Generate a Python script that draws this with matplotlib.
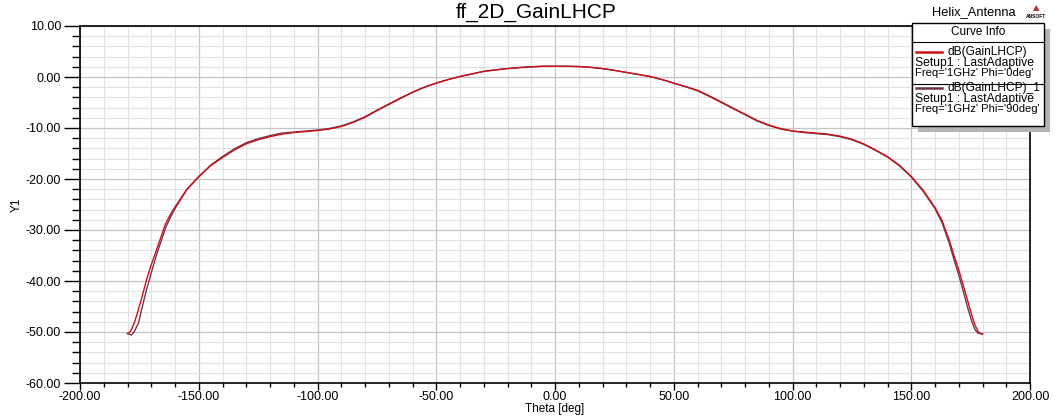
import matplotlib
matplotlib.use("Agg")
import matplotlib.pyplot as plt
from matplotlib.patches import Rectangle
from matplotlib.lines import Line2D
from matplotlib.ticker import MultipleLocator, FormatStrFormatter

plt.rcParams['font.family'] = ['Liberation Sans', 'DejaVu Sans']
plt.rcParams['axes.unicode_minus'] = False

# ---- data ----
theta_phi0 = [-180, -179, -178, -177, -176, -174, -172, -170, -168, -166, -164, -162, -160, -158,
              -155, -150, -145, -140, -135, -130, -125, -120, -115, -110, -105, -100, -95, -90,
              -85, -80, -75, -70, -65, -60, -55, -50, -45, -40, -35, -30, -25, -20, -15, -10,
              -5, 0, 5, 10, 15, 20, 25, 30, 35, 40, 45, 50, 55, 60, 65, 70, 75, 80, 85, 90,
              95, 100, 105, 110, 115, 120, 125, 130, 135, 140, 145, 150, 155, 160, 163, 166,
              168, 170, 172, 174, 176, 177, 178.2, 179, 180]
gain_phi0 = [-50.3, -50.0, -49.2, -48.0, -46.5, -43.3, -39.8, -36.8, -34.2, -31.5, -28.8, -27.0, -25.5, -24.1,
             -22.0, -19.5, -17.4, -15.8, -14.3, -13.1, -12.3, -11.7, -11.2, -10.9, -10.7, -10.5, -10.2, -9.7,
             -8.9, -7.9, -6.6, -5.4, -4.2, -3.0, -2.0, -1.2, -0.5, 0.1, 0.6, 1.1, 1.4, 1.65, 1.85, 2.0,
             2.1, 2.1, 2.1, 2.05, 1.9, 1.65, 1.3, 0.9, 0.5, 0.1, -0.5, -1.2, -1.9, -2.6, -3.7, -4.9,
             -6.1, -7.3, -8.5, -9.4, -10.1, -10.6, -10.8, -11.0, -11.2, -11.6, -12.2, -13.1, -14.3, -15.6,
             -17.3, -19.5, -22.2, -25.6, -28.2, -32.0, -35.0, -37.8, -41.0, -44.3, -47.5, -48.8, -49.9, -50.3, -50.4]

theta_phi90 = [-180, -178.3, -177, -176, -175.4, -174, -172, -170.8, -170, -168, -166, -164, -162, -160, -158,
               -155, -150, -145, -140, -135, -130, -125, -120, -115, -110, -105, -100, -95, -90,
               -85, -80, -75, -70, -65, -60, -55, -50, -45, -40, -35, -30, -25, -20, -15, -10,
               -5, 0, 5, 10, 15, 20, 25, 30, 35, 40, 45, 50, 55, 60, 65, 70, 75, 80, 85, 90,
               95, 100, 105, 110, 115, 120, 125, 130, 135, 140, 145, 150, 155, 160, 163, 166,
               168, 170, 172, 174, 175.4, 176.8, 178, 180]
gain_phi90 = [-50.3, -50.6, -49.8, -48.8, -48.3, -45.5, -41.7, -39.8, -38.4, -35.2, -32.4, -29.6, -27.6, -25.8, -24.3,
              -22.1, -19.6, -17.3, -15.6, -14.1, -12.9, -12.1, -11.5, -11.0, -10.8, -10.6, -10.4, -10.1, -9.6,
              -8.8, -7.8, -6.5, -5.3, -4.1, -3.0, -2.0, -1.2, -0.5, 0.1, 0.6, 1.1, 1.4, 1.65, 1.85, 2.0,
              2.1, 2.1, 2.1, 2.05, 1.9, 1.65, 1.3, 0.9, 0.5, 0.1, -0.5, -1.2, -1.9, -2.7, -3.8, -5.0,
              -6.2, -7.4, -8.6, -9.5, -10.2, -10.6, -10.9, -11.1, -11.3, -11.7, -12.3, -13.2, -14.4, -15.7,
              -17.4, -19.6, -22.4, -25.8, -28.6, -32.6, -35.8, -38.8, -42.2, -45.6, -47.8, -49.5, -50.2, -50.4]

x_ticks = [-200, -150, -100, -50, 0, 50, 100, 150, 200]
y_ticks = [-60, -50, -40, -30, -20, -10, 0, 10]

red = '#cc1111'
purple = '#6e3550'

W, H = 1061, 417
fig = plt.figure(figsize=(W / 100, H / 100), dpi=100)
fig.patch.set_facecolor('white')

def fx(px):
    return px / W

def fy(py):
    return 1 - py / H

ax = fig.add_axes([fx(80), fy(383), fx(1030) - fx(80), fy(26) - fy(383)])

ax.plot(theta_phi90, gain_phi90, color=purple, lw=1.0, zorder=3)
ax.plot(theta_phi0, gain_phi0, color=red, lw=1.0, zorder=4)

ax.set_xlim(-200, 200)
ax.set_ylim(-60, 10)
ax.set_xticks(x_ticks)
ax.set_yticks(y_ticks)
ax.xaxis.set_minor_locator(MultipleLocator(10))
ax.yaxis.set_minor_locator(MultipleLocator(2))
ax.xaxis.set_major_formatter(FormatStrFormatter('%.2f'))
ax.yaxis.set_major_formatter(FormatStrFormatter('%.2f'))

ax.grid(which='major', color='#c4c4c4', lw=0.9, zorder=0)
ax.grid(which='minor', color='#e2e2e2', lw=0.8, zorder=0)
ax.set_axisbelow(True)

ax.tick_params(axis='y', which='major', direction='out', length=11.5, width=1, pad=2, labelsize=9)
ax.tick_params(axis='y', which='minor', direction='out', length=5.8, width=1)
ax.tick_params(axis='x', which='major', direction='out', length=5, width=1, pad=1, labelsize=9)
ax.tick_params(axis='x', which='minor', direction='out', length=3, width=1)

for s in ax.spines.values():
    s.set_color('black')
    s.set_linewidth(1.2)

ax.set_xlabel('Theta [deg]', fontsize=8.5, labelpad=0)
ax.set_ylabel('Y1', fontsize=8.5, labelpad=2.5)

fig.text(fx(536), fy(12), 'ff_2D_GainLHCP', fontsize=15, ha='center', va='center')
fig.text(fx(974), fy(12), 'Helix_Antenna', fontsize=9.3, ha='center', va='center')
fig.text(fx(1036), fy(8), '\u25B2', fontsize=6, color='#c03030', ha='center', va='center',
         family=['DejaVu Sans'])
fig.text(fx(1036), fy(17), 'ANSOFT', fontsize=3.5, color='black', ha='center', va='center',
         fontweight='bold')

# legend box ("Curve Info")
bx0, by0, bx1, by1 = 912, 23, 1044, 126
shadow = Rectangle((fx(bx0 + 6), fy(by1 + 6)), fx(bx1 - bx0), fy(by0) - fy(by1),
                   transform=fig.transFigure, facecolor='#b4b4b4', edgecolor='none', zorder=5)
box = Rectangle((fx(bx0), fy(by1)), fx(bx1 - bx0), fy(by0) - fy(by1),
                transform=fig.transFigure, facecolor='white', edgecolor='black', lw=1, zorder=6)
fig.add_artist(shadow)
fig.add_artist(box)
for yy in (42, 84):
    fig.add_artist(Line2D([fx(bx0), fx(bx1)], [fy(yy), fy(yy)], transform=fig.transFigure,
                          color='black', lw=0.8, zorder=7))

fig.text(fx((bx0 + bx1) / 2), fy(32), 'Curve Info', fontsize=8.5, ha='center', va='center', zorder=8)

entries = [
    (52, red, 'dB(GainLHCP)', "Freq='1GHz' Phi='0deg'"),
    (88, purple, 'dB(GainLHCP)_1', "Freq='1GHz' Phi='90deg'"),
]
for y0, col, name, freq in entries:
    fig.add_artist(Line2D([fx(916), fx(942)], [fy(y0), fy(y0)], transform=fig.transFigure,
                          color=col, lw=1.8, zorder=8))
    fig.text(fx(948), fy(y0), name, fontsize=8.6, ha='left', va='center', zorder=8)
    fig.text(fx(915), fy(y0 + 11), 'Setup1 : LastAdaptive', fontsize=8.7, ha='left', va='center', zorder=8)
    fig.text(fx(915), fy(y0 + 21.5), freq, fontsize=8.1, ha='left', va='center', zorder=8)

fig.savefig('out.png', dpi=100, facecolor='white')
